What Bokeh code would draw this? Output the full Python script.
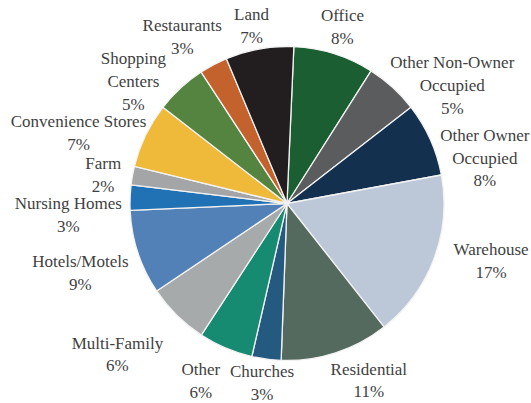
import numpy as np
from bokeh.plotting import figure
from bokeh.models import ColumnDataSource
from bokeh.core.properties import value
from bokeh.embed import file_html
from bokeh.resources import INLINE

# ---- data (clockwise from the top) ----
categories = ["Office", "Other Non-Owner\nOccupied", "Other Owner\nOccupied", "Warehouse",
              "Residential", "Churches", "Other", "Multi-Family", "Hotels/Motels",
              "Nursing Homes", "Farm", "Convenience Stores", "Shopping\nCenters",
              "Restaurants", "Land"]
shares = [8.3, 5.5, 7.6, 17.3, 11.2, 3.0, 5.6, 6.4, 8.7, 2.6, 1.9, 6.7, 5.3, 2.9, 7.0]
pct_labels = ["8%", "5%", "8%", "17%", "11%", "3%", "6%", "6%", "9%", "3%", "2%", "7%", "5%", "3%", "7%"]
colors = ["#1b5e31", "#5b5c5e", "#14304f", "#bcc8d8", "#546a5f", "#255a80", "#178a72",
          "#a7aaab", "#5181b6", "#2072b4", "#a3a5a6", "#efb93a", "#54843f", "#c4622d", "#221e20"]

# ---- layout ----
W, H = 531, 403
cx, cy, R = 286.5, 200.0, 157.0
rotation = 2.5  # degrees clockwise of the first slice from 12 o'clock
label_nudge = [0, 12.2, 11.2, -4.9, -6.8, 0.4, 2.9, 3.7, -0.4, -5.2, -1.5, -7.1, -8.9, -4.2, -1.2]
label_dist = [185, 203, 203, 212, 195, 181, 197, 227, 218, 219, 186, 220, 196, 197, 181]

vals = np.array(shares, dtype=float)
frac = vals / vals.sum()
cum = np.concatenate([[0.0], np.cumsum(frac)])
theta_s = rotation + 360.0 * cum[:-1]   # clockwise from top, degrees
theta_e = rotation + 360.0 * cum[1:]
start = np.radians(90.0 - theta_e)
end = np.radians(90.0 - theta_s)

mid = (theta_s + theta_e) / 2.0 + np.array(label_nudge)
lx = cx + np.array(label_dist) * np.sin(np.radians(mid))
ly = cy + np.array(label_dist) * np.cos(np.radians(mid))
texts = [f"{c}\n{p}" for c, p in zip(categories, pct_labels)]

src = ColumnDataSource(dict(start=start, end=end, color=colors))
lsrc = ColumnDataSource(dict(x=lx, y=ly, text=texts))

p = figure(width=W, height=H, x_range=(0, W), y_range=(0, H),
           output_backend="svg", toolbar_location=None, min_border=0)
p.axis.visible = False
p.grid.visible = False
p.outline_line_color = None
p.background_fill_color = "white"

p.wedge(x=cx, y=cy, radius=R, start_angle="start", end_angle="end",
        fill_color="color", line_color="#f2f2f2", line_width=1.3, source=src)

p.text(x="x", y="y", text="text", source=lsrc, text_font=value("Liberation Serif"),
       text_font_size="17px", text_color="#3f3f3f", text_align="center",
       text_baseline="middle", text_line_height=1.2)

open("out.html", "w").write(file_html(p, INLINE))
